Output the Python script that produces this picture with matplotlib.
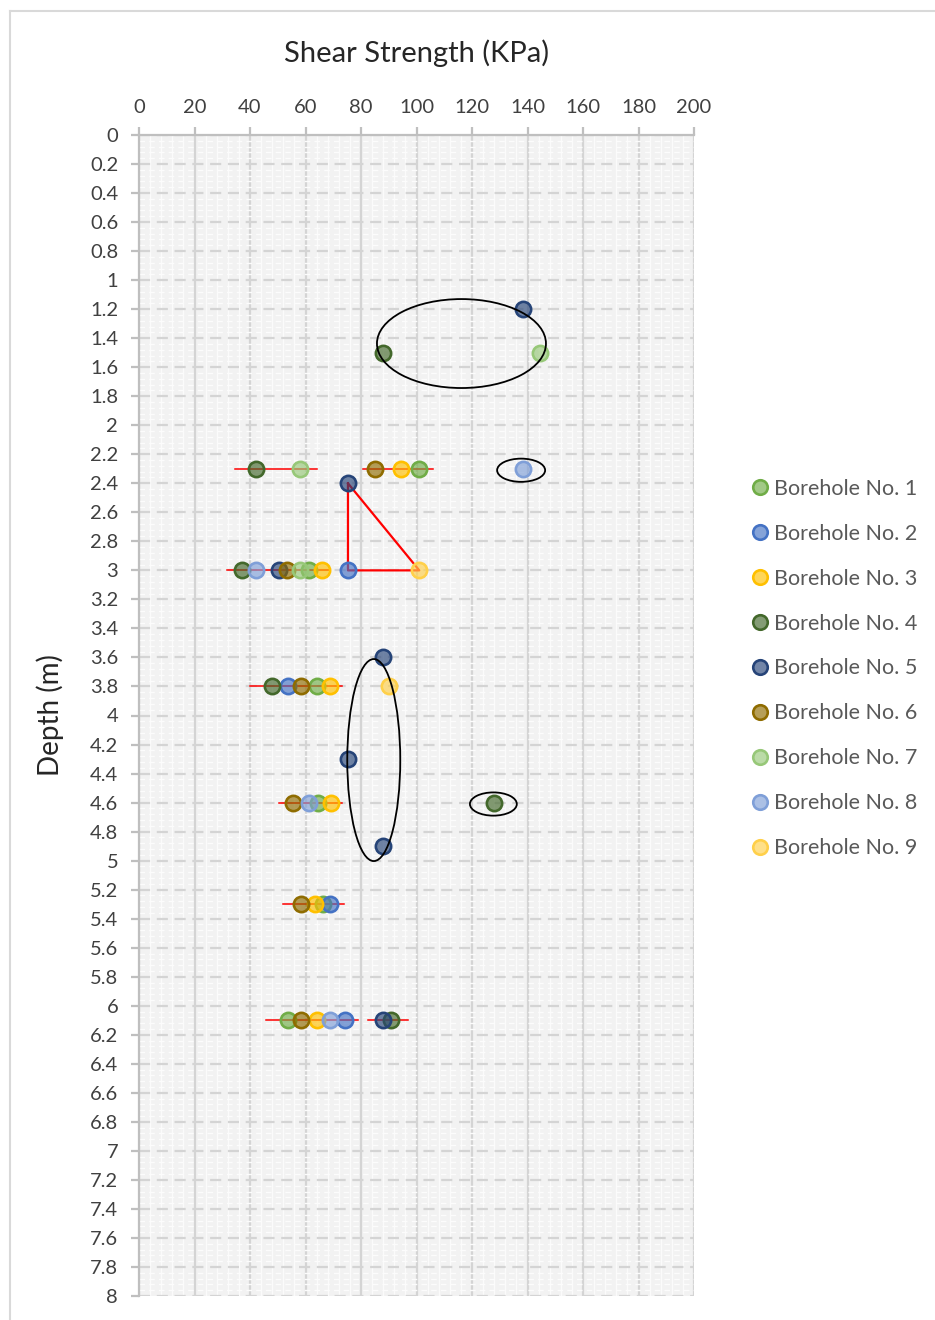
import matplotlib
matplotlib.use("Agg")
import matplotlib.pyplot as plt
from matplotlib.patches import Ellipse
from matplotlib.lines import Line2D
import numpy as np

plt.rcParams['font.family'] = ['Lato', 'DejaVu Sans']

# ---------------- data ----------------
labels = [f"Borehole No. {i}" for i in range(1, 10)]
colors = ['#70AD47', '#4472C4', '#FFC000', '#43682B', '#264478',
          '#8F6C00', '#97C878', '#7F9FD8', '#FFD04A']

bh1_x = [101, 61.3, 64, 64.4, 66.4, 53.6]
bh1_y = [2.3, 3.0, 3.8, 4.6, 5.3, 6.1]
bh2_x = [75.3, 53.6, 69, 74.4]
bh2_y = [3.0, 3.8, 5.3, 6.1]
bh3_x = [94.4, 66, 69, 69.1, 63.6, 64]
bh3_y = [2.3, 3.0, 3.8, 4.6, 5.3, 6.1]
bh4_x = [88, 42.2, 37, 47.8, 128, 90.7]
bh4_y = [1.5, 2.3, 3.0, 3.8, 4.6, 6.1]
bh5_x = [138.4, 75.3, 50.5, 88, 75.3, 88, 88]
bh5_y = [1.2, 2.4, 3.0, 3.6, 4.3, 4.9, 6.1]
bh6_x = [85, 53.3, 58.4, 55.6, 58.4, 58.4]
bh6_y = [2.3, 3.0, 3.8, 4.6, 5.3, 6.1]
bh7_x = [144.5, 58, 58]
bh7_y = [1.5, 2.3, 3.0]
bh8_x = [138.4, 42, 61.4, 69]
bh8_y = [2.3, 3.0, 4.6, 6.1]
bh9_x = [101, 90.2]
bh9_y = [3.0, 3.8]

series_x = [bh1_x, bh2_x, bh3_x, bh4_x, bh5_x, bh6_x, bh7_x, bh8_x, bh9_x]
series_y = [bh1_y, bh2_y, bh3_y, bh4_y, bh5_y, bh6_y, bh7_y, bh8_y, bh9_y]

# red range lines (depth, x start, x end)
range_depth = [2.3, 2.3, 3.0, 3.8, 4.6, 5.3, 6.1, 6.1]
range_x0 = [34.6, 80.8, 31.6, 40, 50.5, 52, 45.6, 82.6]
range_x1 = [64, 106, 68.8, 73, 73, 74, 79, 97]

# red triangle
tri_x = [75.3, 75.3, 101, 75.3]
tri_y = [2.4, 3.0, 3.0, 2.4]

# black ellipses (center x, center depth, width, height)
ell_cx = [116.2, 137.7, 84.6, 127.7]
ell_cy = [1.437, 2.31, 4.307, 4.61]
ell_w = [60.9, 17.3, 19.1, 16.9]
ell_h = [0.613, 0.16, 1.392, 0.16]

x_ticks = list(range(0, 201, 20))
y_ticks = [round(v * 0.2, 1) for v in range(0, 41)]
y_ticklabels = [("%g" % v) for v in y_ticks]

# ---------------- figure ----------------
fig = plt.figure(figsize=(9.35, 13.2), dpi=100)
ax = fig.add_axes([139/935, 24/1320, 555/935, 1161/1320])
ax.set_facecolor('#f2f2f2')

ax.set_xlim(0, 200)
ax.set_ylim(8, 0)
ax.xaxis.tick_top()
ax.xaxis.set_label_position('top')
ax.set_xticks(x_ticks)
ax.set_yticks(y_ticks)
ax.set_yticklabels(y_ticklabels)
ax.set_xticks(np.arange(0, 201, 4), minor=True)
ax.set_yticks(np.arange(0, 8.001, 0.04), minor=True)

ax.grid(which='minor', axis='x', color='#fbfbfb', lw=1.0, zorder=0)
ax.grid(which='minor', axis='y', color='#fcfcfc', lw=1.0, ls=(0, (4, 3)), zorder=0)
ax.grid(which='major', axis='x', color='#d4d4d4', lw=1.6, zorder=0)
ax.grid(which='major', axis='y', color='#d4d4d4', lw=1.6, ls=(0, (5, 3)), zorder=0)
ax.set_axisbelow(True)

for s in ['right', 'bottom']:
    ax.spines[s].set_visible(False)
for s in ['left', 'top']:
    ax.spines[s].set_color('#bfbfbf')
    ax.spines[s].set_linewidth(1.6)

ax.tick_params(which='major', direction='out', length=6, width=1.6, color='#bfbfbf',
               labelsize=14.5, labelcolor='#404040', pad=9)
ax.tick_params(axis='x', pad=8)
ax.tick_params(which='minor', length=0)

ax.set_xlabel('Shear Strength (KPa)', fontsize=21, color='#262626', labelpad=26)
ax.set_ylabel('Depth (m)', fontsize=20, color='#262626', labelpad=19)

# red range lines
for d, a, b in zip(range_depth, range_x0, range_x1):
    ax.plot([a, b], [d, d], color='#FF0000', lw=1.1, zorder=2)

# triangle
ax.plot(tri_x, tri_y, color='#FF0000', lw=1.6, zorder=2)

# points
for i, (xs, ys) in enumerate(zip(series_x, series_y)):
    c = matplotlib.colors.to_rgba(colors[i])
    face = (c[0], c[1], c[2], 0.65)
    ax.plot(xs, ys, ls='none', marker='o', markersize=11, markeredgewidth=1.9,
            markeredgecolor=colors[i], markerfacecolor=face, zorder=3 + i * 0.1,
            label=labels[i])

# ellipses
for cx, cy, w, h in zip(ell_cx, ell_cy, ell_w, ell_h):
    ax.add_patch(Ellipse((cx, cy), w, h, fill=False, edgecolor='black', lw=1.3, zorder=5))

leg = ax.legend(loc='center left', bbox_to_anchor=(752/935, 1 - 668.5/1320),
                bbox_transform=fig.transFigure, frameon=False, fontsize=15.5,
                labelspacing=1.16, handlelength=0.7, handletextpad=0.3,
                borderaxespad=0, borderpad=0, markerscale=0.95)
for t in leg.get_texts():
    t.set_color('#595959')

# chart-area border
fig.add_artist(Line2D([10/935, 1], [1 - 11/1320, 1 - 11/1320], transform=fig.transFigure,
                      color='#d9d9d9', lw=1.5))
fig.add_artist(Line2D([10/935, 10/935], [0, 1 - 11/1320], transform=fig.transFigure,
                      color='#d9d9d9', lw=1.5))

fig.savefig('out.png', dpi=100)
